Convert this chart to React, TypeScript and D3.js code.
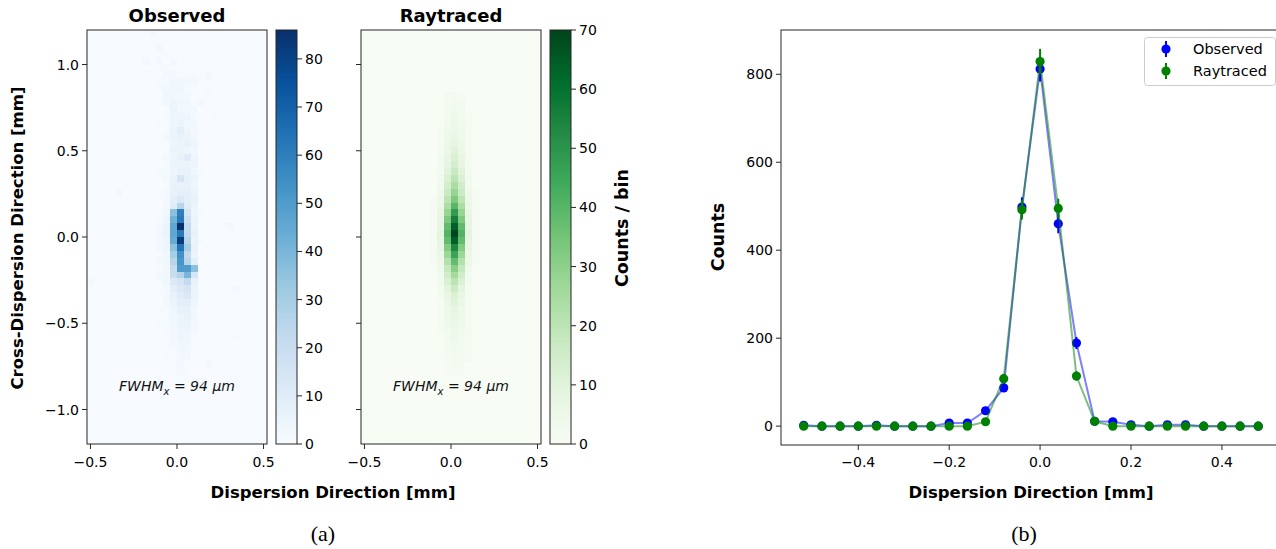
import React from "react";
import * as d3 from "d3";

// ---------- data ----------
const BIN = 0.04; // detector bin size [mm]

// Observed image: left edges of the columns held in the grid below
const obsColumnLefts = [-0.2, -0.16, -0.12, -0.08, -0.04, 0, 0.04, 0.08, 0.12, 0.16, 0.2];
// lower edge of the first (top) row; each following row is one bin lower
const obsTopRowLower = 1.16;
const observedGrid: number[][] = [
  [0, 2, 0, 0, 0, 0, 0, 0, 0, 0, 0],
  [0, 0, 1, 0, 0, 0, 0, 0, 0, 0, 0],
  [1, 0, 2, 0, 1, 0, 0, 0, 0, 0, 0],
  [1, 0, 1, 1, 0, 1, 0, 0, 0, 0, 1],
  [2, 0, 2, 0, 2, 0, 1, 1, 0, 1, 0],
  [0, 1, 1, 1, 1, 1, 0, 0, 0, 0, 0],
  [1, 1, 0, 2, 2, 1, 1, 1, 0, 2, 0],
  [1, 0, 1, 1, 3, 2, 2, 2, 1, 0, 0],
  [0, 0, 1, 2, 3, 3, 1, 1, 0, 1, 0],
  [0, 0, 0, 3, 3, 2, 2, 0, 0, 1, 0],
  [0, 0, 1, 2, 4, 3, 3, 1, 2, 0, 0],
  [0, 0, 0, 1, 5, 3, 2, 2, 0, 0, 0],
  [0, 0, 0, 1, 4, 4, 4, 1, 0, 0, 1],
  [0, 0, 1, 1, 4, 5, 3, 3, 0, 0, 0],
  [0, 0, 0, 1, 5, 8, 4, 2, 1, 0, 0],
  [0, 0, 0, 2, 5, 6, 5, 3, 0, 0, 0],
  [0, 0, 1, 1, 4, 5, 6, 4, 0, 0, 0],
  [0, 0, 0, 1, 5, 5, 4, 3, 0, 0, 0],
  [0, 0, 0, 2, 4, 6, 10, 4, 0, 0, 0],
  [0, 0, 0, 1, 5, 5, 5, 4, 0, 0, 0],
  [0, 0, 1, 1, 4, 6, 6, 3, 1, 0, 0],
  [0, 0, 0, 2, 5, 14, 7, 5, 0, 0, 0],
  [0, 1, 0, 1, 6, 6, 6, 4, 0, 0, 0],
  [0, 0, 0, 2, 6, 8, 8, 5, 0, 0, 0],
  [0, 0, 1, 2, 8, 12, 8, 6, 0, 0, 0],
  [0, 0, 0, 2, 10, 25, 10, 5, 0, 0, 0],
  [0, 0, 0, 3, 36, 60, 15, 4, 1, 0, 0],
  [0, 0, 1, 4, 42, 62, 18, 5, 0, 0, 0],
  [0, 0, 2, 5, 46, 86, 22, 5, 0, 0, 0],
  [0, 0, 2, 5, 46, 62, 22, 6, 0, 0, 0],
  [0, 1, 2, 4, 44, 82, 25, 5, 1, 0, 0],
  [0, 0, 2, 4, 36, 64, 30, 6, 0, 1, 0],
  [0, 0, 1, 3, 30, 54, 22, 5, 0, 0, 0],
  [0, 0, 2, 3, 25, 52, 25, 8, 0, 0, 1],
  [0, 0, 1, 3, 21, 50, 50, 36, 1, 0, 0],
  [0, 0, 2, 3, 20, 26, 40, 15, 0, 0, 0],
  [0, 0, 1, 3, 12, 15, 22, 7, 1, 1, 0],
  [0, 0, 0, 2, 9, 12, 15, 5, 0, 0, 0],
  [0, 0, 1, 2, 6, 10, 12, 5, 1, 0, 0],
  [0, 0, 0, 2, 5, 8, 9, 4, 0, 0, 0],
  [0, 1, 1, 1, 4, 7, 7, 3, 0, 1, 0],
  [0, 0, 0, 1, 3, 5, 6, 3, 0, 0, 0],
  [0, 0, 1, 1, 3, 5, 5, 2, 0, 0, 0],
  [0, 0, 0, 1, 2, 4, 4, 2, 0, 0, 0],
  [0, 0, 0, 1, 2, 4, 3, 1, 1, 0, 0],
  [0, 0, 1, 1, 2, 3, 3, 1, 0, 0, 0],
  [1, 0, 0, 1, 1, 3, 2, 1, 0, 0, 0],
  [0, 0, 0, 1, 1, 2, 2, 0, 0, 0, 0],
  [0, 0, 0, 0, 1, 2, 1, 0, 0, 2, 0],
  [0, 0, 0, 0, 1, 1, 1, 0, 0, 0, 0],
  [0, 0, 1, 0, 0, 1, 1, 0, 0, 0, 0],
  [0, 0, 0, 0, 0, 1, 0, 0, 0, 0, 0],
];
// isolated hits outside the main grid: [x left edge, y lower edge, counts]
const obsStrayCells: [number, number, number][] = [
  [-0.52, -0.28, 2],
  [-0.36, 0.24, 2],
  [0.28, 0.04, 2],
  [0.28, 0.6, 1],
  [0.32, -0.32, 2],
  [0.32, -0.6, 1],
];

// Raytraced image
const rayColumnLefts = [-0.12, -0.08, -0.04, 0, 0.04, 0.08, 0.12];
const rayTopRowLower = 0.8;
const raytracedGrid: number[][] = [
  [0, 0, 1, 2, 1, 0, 0],
  [0, 0, 2, 3, 2, 0, 0],
  [0, 0, 2, 3, 2, 0, 0],
  [0, 0, 2, 4, 3, 1, 0],
  [0, 0, 3, 5, 3, 1, 0],
  [0, 1, 4, 6, 4, 1, 0],
  [0, 1, 4, 7, 4, 1, 0],
  [0, 1, 5, 8, 5, 1, 0],
  [0, 1, 6, 10, 6, 1, 0],
  [0, 2, 7, 12, 7, 2, 0],
  [0, 2, 8, 14, 8, 2, 0],
  [0, 2, 10, 17, 10, 2, 0],
  [0, 3, 12, 20, 12, 3, 0],
  [0, 3, 14, 24, 15, 3, 0],
  [0, 4, 17, 28, 17, 4, 1],
  [1, 5, 20, 33, 20, 5, 1],
  [1, 6, 24, 40, 24, 6, 1],
  [1, 7, 28, 48, 28, 7, 1],
  [1, 8, 33, 56, 33, 8, 1],
  [1, 8, 38, 64, 38, 8, 1],
  [1, 9, 41, 70, 41, 9, 1],
  [1, 8, 38, 64, 38, 8, 1],
  [1, 7, 32, 54, 32, 7, 1],
  [1, 6, 27, 46, 27, 6, 1],
  [1, 5, 22, 38, 22, 5, 1],
  [0, 4, 18, 31, 18, 4, 0],
  [0, 3, 15, 25, 15, 3, 0],
  [0, 3, 12, 20, 12, 3, 0],
  [0, 2, 9, 16, 9, 2, 0],
  [0, 2, 7, 12, 7, 2, 0],
  [0, 1, 6, 10, 6, 1, 0],
  [0, 1, 5, 8, 5, 1, 0],
  [0, 1, 4, 7, 4, 1, 0],
  [0, 1, 4, 6, 4, 1, 0],
  [0, 1, 3, 5, 3, 1, 0],
  [0, 0, 2, 4, 2, 1, 0],
  [0, 0, 2, 3, 2, 1, 0],
  [0, 0, 2, 3, 2, 1, 0],
  [0, 0, 1, 2, 1, 1, 0],
  [0, 0, 1, 2, 1, 0, 0],
  [0, 0, 1, 1, 1, 0, 0],
];

// Projected profiles along the dispersion direction
const profileX = [
  -0.52, -0.48, -0.44, -0.4, -0.36, -0.32, -0.28, -0.24, -0.2, -0.16, -0.12, -0.08, -0.04,
  0, 0.04, 0.08, 0.12, 0.16, 0.2, 0.24, 0.28, 0.32, 0.36, 0.4, 0.44, 0.48,
];
const observedCounts = [2, 0, 0, 0, 2, 0, 0, 0, 7, 7, 35, 87, 498, 812, 460, 189, 11, 10, 3, 0, 3, 3, 0, 0, 0, 0];
const observedErr = [1.4, 0, 0, 0, 1.4, 0, 0, 0, 2.6, 2.6, 5.9, 9.3, 22.3, 28.5, 21.4, 13.7, 3.3, 3.2, 1.7, 0, 1.7, 1.7, 0, 0, 0, 0];
const raytracedCounts = [0, 0, 0, 0, 0, 0, 0, 0, 0, 0, 10, 108, 492, 829, 495, 114, 11, 0, 0, 0, 0, 0, 0, 0, 0, 0];
const raytracedErr = [0, 0, 0, 0, 0, 0, 0, 0, 0, 0, 3.2, 10.4, 22.2, 28.8, 22.2, 10.7, 3.3, 0, 0, 0, 0, 0, 0, 0, 0, 0];

// Axis ticks
const imgXTicks = [-0.5, 0, 0.5];
const imgYTicks = [-1, -0.5, 0, 0.5, 1];
const obsBarTicks = [0, 10, 20, 30, 40, 50, 60, 70, 80];
const rayBarTicks = [0, 10, 20, 30, 40, 50, 60, 70];
const profXTicks = [-0.4, -0.2, 0, 0.2, 0.4];
const profYTicks = [0, 200, 400, 600, 800];

const obsMax = 86;
const rayMax = 70;

const bluesStops = ["#f7fbff", "#deebf7", "#c6dbef", "#9ecae1", "#6baed6", "#4292c6", "#2171b5", "#08519c", "#08306b"];
const greensStops = ["#f7fcf5", "#e5f5e0", "#c7e9c0", "#a1d99b", "#74c476", "#41ab5d", "#238b45", "#006d2c", "#00441b"];

// ---------- helpers ----------
const FONT = "DejaVu Sans";
const SPINE = "#262626";
const TICK_FS = 14;
const LABEL_FS = 16.5;
const fmtTick = (v: number, digits: number) => {
  const s = Math.abs(v) < 1e-9 ? (0).toFixed(digits) : v.toFixed(digits);
  return s.replace("-", "\u2212");
};

function makeCmap(stops: string[], vmax: number) {
  return d3
    .scaleLinear<string>()
    .domain(stops.map((_, i) => (i / (stops.length - 1)) * vmax))
    .range(stops)
    .interpolate(d3.interpolateRgb)
    .clamp(true);
}

type Cell = { x: number; y: number; v: number };

function gridCells(grid: number[][], lefts: number[], topLower: number): Cell[] {
  const out: Cell[] = [];
  grid.forEach((row, i) => {
    const lower = topLower - i * BIN;
    row.forEach((v, j) => {
      if (v > 0) out.push({ x: lefts[j], y: lower, v });
    });
  });
  return out;
}

function ImagePanel(props: {
  left: number;
  cells: Cell[];
  cmap: (v: number) => string;
  title: string;
  showYLabels: boolean;
  clipId: string;
}) {
  const { left, cells, cmap, title, showYLabels, clipId } = props;
  const top = 30;
  const bottom = 444;
  const width = 180;
  const xs = d3.scaleLinear().domain([-0.52, 0.52]).range([left, left + width]);
  const ys = d3.scaleLinear().domain([-1.2, 1.2]).range([bottom, top]);
  const cx = xs(0);
  return (
    <g>
      <defs>
        <clipPath id={clipId}>
          <rect x={left} y={top} width={width} height={bottom - top} />
        </clipPath>
      </defs>
      <rect x={left} y={top} width={width} height={bottom - top} fill={cmap(0)} />
      <g clipPath={`url(#${clipId})`} shapeRendering="crispEdges">
        {cells.map((c, k) => {
          const x0 = xs(c.x);
          const x1 = xs(c.x + BIN);
          const y0 = ys(c.y + BIN);
          const y1 = ys(c.y);
          return <rect key={k} x={x0} y={y0} width={x1 - x0 + 0.3} height={y1 - y0 + 0.3} fill={cmap(c.v)} />;
        })}
      </g>
      <text x={cx} y={391} textAnchor="middle" fontFamily={FONT} fontStyle="italic" fontSize={14} fill="#111">
        FWHM
        <tspan fontSize={10} dy={4}>x</tspan>
        <tspan dy={-4}> = 94 </tspan>
        <tspan>μm</tspan>
      </text>
      <rect x={left} y={top} width={width} height={bottom - top} fill="none" stroke={SPINE} strokeWidth={1} />
      {imgXTicks.map((t) => (
        <g key={`xt${t}`}>
          <line x1={xs(t)} x2={xs(t)} y1={bottom} y2={bottom + 5} stroke={SPINE} />
          <text x={xs(t)} y={467} textAnchor="middle" fontFamily={FONT} fontSize={TICK_FS} fill="#000">
            {fmtTick(t, 1)}
          </text>
        </g>
      ))}
      {imgYTicks.map((t) => (
        <g key={`yt${t}`}>
          <line x1={left - 5} x2={left} y1={ys(t)} y2={ys(t)} stroke={SPINE} />
          {showYLabels && (
            <text x={left - 8} y={ys(t) + 5} textAnchor="end" fontFamily={FONT} fontSize={TICK_FS} fill="#000">
              {fmtTick(t, 1)}
            </text>
          )}
        </g>
      ))}
      <text x={cx} y={22} textAnchor="middle" fontFamily={FONT} fontWeight="bold" fontSize={18} fill="#000">
        {title}
      </text>
    </g>
  );
}

function Colorbar(props: { left: number; stops: string[]; vmax: number; ticks: number[]; gradId: string }) {
  const { left, stops, vmax, ticks, gradId } = props;
  const top = 30;
  const bottom = 444;
  const w = 21;
  const ys = d3.scaleLinear().domain([0, vmax]).range([bottom, top]);
  return (
    <g>
      <defs>
        <linearGradient id={gradId} x1="0" y1="1" x2="0" y2="0">
          {stops.map((c, i) => (
            <stop key={i} offset={`${(i / (stops.length - 1)) * 100}%`} stopColor={c} />
          ))}
        </linearGradient>
      </defs>
      <rect x={left} y={top} width={w} height={bottom - top} fill={`url(#${gradId})`} />
      <rect x={left} y={top} width={w} height={bottom - top} fill="none" stroke={SPINE} />
      {ticks.map((t) => (
        <g key={t}>
          <line x1={left + w} x2={left + w + 5} y1={ys(t)} y2={ys(t)} stroke={SPINE} />
          <text x={left + w + 8} y={ys(t) + 5} fontFamily={FONT} fontSize={TICK_FS} fill="#000">
            {t}
          </text>
        </g>
      ))}
    </g>
  );
}

function ProfilePanel() {
  const left = 781;
  const right = 1281;
  const top = 30;
  const bottom = 445;
  const xMin = d3.min(profileX) as number;
  const xMax = d3.max(profileX) as number;
  const xPad = (xMax - xMin) * 0.05;
  const lows = [
    ...observedCounts.map((v, i) => v - observedErr[i]),
    ...raytracedCounts.map((v, i) => v - raytracedErr[i]),
  ];
  const highs = [
    ...observedCounts.map((v, i) => v + observedErr[i]),
    ...raytracedCounts.map((v, i) => v + raytracedErr[i]),
  ];
  const yMin = d3.min(lows) as number;
  const yMax = d3.max(highs) as number;
  const yPad = (yMax - yMin) * 0.05;
  const xs = d3.scaleLinear().domain([xMin - xPad, xMax + xPad]).range([left, right]);
  const ys = d3.scaleLinear().domain([yMin - yPad, yMax + yPad]).range([bottom, top]);

  const series = [
    { name: "Observed", color: "#0000ff", values: observedCounts, err: observedErr },
    { name: "Raytraced", color: "#008000", values: raytracedCounts, err: raytracedErr },
  ];
  const line = d3
    .line<number>()
    .x((_, i) => xs(profileX[i]))
    .y((v) => ys(v));

  return (
    <g>
      <rect x={left} y={top} width={right - left} height={bottom - top} fill="#fff" />
      {series.map((s) => (
        <g key={s.name}>
          <path d={line(s.values) || ""} fill="none" stroke={s.color} strokeOpacity={0.5} strokeWidth={2} />
          {s.values.map((v, i) =>
            s.err[i] > 0 ? (
              <line
                key={`e${i}`}
                x1={xs(profileX[i])}
                x2={xs(profileX[i])}
                y1={ys(v - s.err[i])}
                y2={ys(v + s.err[i])}
                stroke={s.color}
                strokeWidth={2}
              />
            ) : null
          )}
          {s.values.map((v, i) => (
            <circle key={`m${i}`} cx={xs(profileX[i])} cy={ys(v)} r={4.6} fill={s.color} />
          ))}
        </g>
      ))}
      <rect x={left} y={top} width={right - left} height={bottom - top} fill="none" stroke={SPINE} />
      {profXTicks.map((t) => (
        <g key={`px${t}`}>
          <line x1={xs(t)} x2={xs(t)} y1={bottom} y2={bottom + 5} stroke={SPINE} />
          <text x={xs(t)} y={467} textAnchor="middle" fontFamily={FONT} fontSize={TICK_FS} fill="#000">
            {fmtTick(t, 1)}
          </text>
        </g>
      ))}
      {profYTicks.map((t) => (
        <g key={`py${t}`}>
          <line x1={left - 5} x2={left} y1={ys(t)} y2={ys(t)} stroke={SPINE} />
          <text x={left - 8} y={ys(t) + 5} textAnchor="end" fontFamily={FONT} fontSize={TICK_FS} fill="#000">
            {t}
          </text>
        </g>
      ))}
      {/* legend */}
      <rect x={1144.5} y={37.5} width={131} height={48} rx={3} fill="#fff" fillOpacity={0.8} stroke="#cccccc" />
      {series.map((s, k) => {
        const ly = 49 + k * 22;
        return (
          <g key={`lg${s.name}`}>
            <line x1={1166} x2={1166} y1={ly - 8} y2={ly + 8} stroke={s.color} strokeWidth={2} />
            <circle cx={1166} cy={ly} r={4.6} fill={s.color} />
            <text x={1193} y={ly + 5} fontFamily={FONT} fontSize={14.5} fill="#000">
              {s.name}
            </text>
          </g>
        );
      })}
      <text x={(left + right) / 2} y={498} textAnchor="middle" fontFamily={FONT} fontWeight="bold" fontSize={LABEL_FS} fill="#000">
        Dispersion Direction [mm]
      </text>
      <text
        transform={`translate(724, 237) rotate(-90)`}
        textAnchor="middle"
        fontFamily={FONT}
        fontWeight="bold"
        fontSize={17.5}
        fill="#000"
      >
        Counts
      </text>
    </g>
  );
}

export default function App() {
  const obsCells = [
    ...gridCells(observedGrid, obsColumnLefts, obsTopRowLower),
    ...obsStrayCells.map(([x, y, v]) => ({ x, y, v })),
  ];
  const rayCells = gridCells(raytracedGrid, rayColumnLefts, rayTopRowLower);
  const blues = makeCmap(bluesStops, obsMax);
  const greens = makeCmap(greensStops, rayMax);

  return (
    <svg
      width={1276}
      height={549}
      viewBox="0 0 1276 549"
      style={{ position: "absolute", left: 0, top: 0, display: "block", background: "#fff" }}
    >
      <rect x={0} y={0} width={1276} height={549} fill="#fff" />
      <ImagePanel left={87} cells={obsCells} cmap={blues} title="Observed" showYLabels={true} clipId="clipObs" />
      <Colorbar left={276} stops={bluesStops} vmax={obsMax} ticks={obsBarTicks} gradId="gradObs" />
      <ImagePanel left={361} cells={rayCells} cmap={greens} title="Raytraced" showYLabels={false} clipId="clipRay" />
      <Colorbar left={550} stops={greensStops} vmax={rayMax} ticks={rayBarTicks} gradId="gradRay" />
      <text
        transform="translate(23, 238) rotate(-90)"
        textAnchor="middle"
        fontFamily={FONT}
        fontWeight="bold"
        fontSize={LABEL_FS}
        fill="#000"
      >
        Cross-Dispersion Direction [mm]
      </text>
      <text
        transform="translate(628, 228) rotate(-90)"
        textAnchor="middle"
        fontFamily={FONT}
        fontWeight="bold"
        fontSize={17.5}
        fill="#000"
      >
        Counts / bin
      </text>
      <text x={333} y={498} textAnchor="middle" fontFamily={FONT} fontWeight="bold" fontSize={LABEL_FS} fill="#000">
        Dispersion Direction [mm]
      </text>
      <ProfilePanel />
      <text x={323} y={541} textAnchor="middle" fontFamily="Liberation Serif" fontSize={22} fill="#000">
        (a)
      </text>
      <text x={1024} y={541} textAnchor="middle" fontFamily="Liberation Serif" fontSize={22} fill="#000">
        (b)
      </text>
    </svg>
  );
}
